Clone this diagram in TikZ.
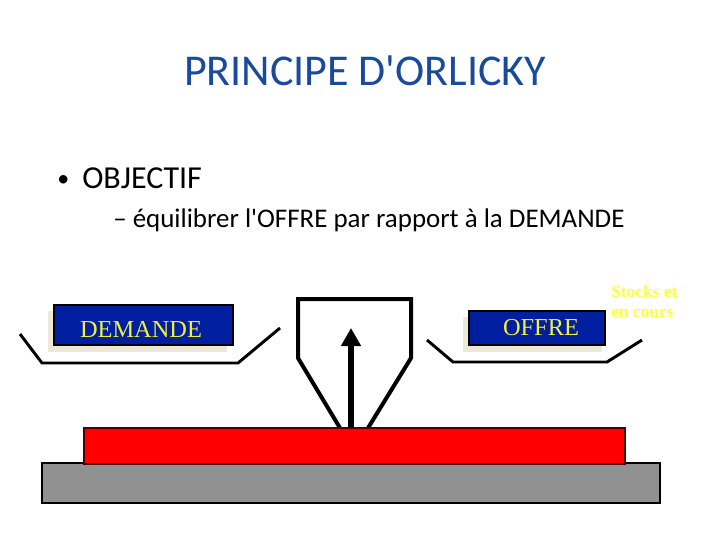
\documentclass[tikz,border=0pt]{standalone}
\usepackage{fontspec}
\setmainfont{Carlito}[Ligatures=TeXOff]
\newfontfamily\serifb{Liberation Serif}[Ligatures=TeXOff]
\usetikzlibrary{arrows.meta}
\definecolor{titleblue}{RGB}{26,74,156}
\definecolor{boxblue}{RGB}{0,30,160}
\definecolor{boxyellow}{RGB}{240,240,60}
\definecolor{stockyellow}{RGB}{255,255,60}
\definecolor{shadowbeige}{RGB}{236,233,216}
\definecolor{basegray}{RGB}{145,145,145}
\definecolor{redbar}{RGB}{255,0,0}
\tikzset{
  tray/.style={line width=2.2pt, line join=miter},
  bluebox/.style={fill=boxblue, draw=black, line width=2.2pt},
  boxtext/.style={text=boxyellow, font=\serifb\fontsize{18.3}{20}\selectfont, inner sep=0pt},
  stocktext/.style={anchor=base west, text=stockyellow, font=\serifb\bfseries\fontsize{13}{15}\selectfont, inner sep=0pt},
}
\begin{document}
\begin{tikzpicture}[x=0.75pt,y=-0.75pt]
\useasboundingbox (0,0) rectangle (720,540);
\fill[white] (0,0) rectangle (720,540);
% title
\node[anchor=base, text=titleblue, font=\fontsize{33}{36}\selectfont, inner sep=0pt] (title) at (365,85) {PRINCIPE D'ORLICKY};
% bullets
\node[anchor=base west, font=\fontsize{18}{20}\selectfont, inner sep=0pt] (bul) at (57,186) {•};
\node[anchor=base west, font=\fontsize{24}{28}\selectfont, inner sep=0pt] (obj) at (82,188) {OBJECTIF};
\node[anchor=base west, font=\fontsize{20.2}{24}\selectfont, inner sep=0pt] (sub) at (113,227) {– équilibrer l'OFFRE par rapport à la DEMANDE};
% DEMANDE box
\fill[shadowbeige] (48,311) rectangle (227,352);
\draw[bluebox] (54,305) rectangle (233,345);
\node[boxtext, anchor=base] (dem) at (141,337) {DEMANDE};
\draw[tray] (20,334) -- (42,363) -- (238,363) -- (280,328);
% OFFRE box
\fill[shadowbeige] (463,317) rectangle (602,352);
\draw[bluebox] (469,311) rectangle (605,345);
\node[boxtext, anchor=base] (off) at (541,335) {OFFRE};
\draw[tray] (427,340) -- (453,362) -- (607,362) -- (642,340);
% stocks
\node[stocktext] (stk) at (611,297) {Stocks et};
\node[stocktext] (stk2) at (611,317) {en cours};
% funnel
\draw[line width=3pt, line join=miter] (340,428) -- (298,358) -- (298,299) -- (411,299) -- (411,358) -- (368,428);
% bars
\draw[fill=basegray, draw=black, line width=1.5pt] (42,463) rectangle (660,503);
\node[draw=black!70!red, fill=redbar, line width=1.2pt, minimum width=541*0.75pt, minimum height=36*0.75pt, inner sep=0pt, anchor=north west] (red) at (83,427) {};
% arrow
\coordinate (tip) at (351,328);
\draw[line width=5pt, -{Triangle[width=19pt*0.75,length=18pt*0.75]}] (red.north -| tip) -- (tip);
\end{tikzpicture}
\end{document}
